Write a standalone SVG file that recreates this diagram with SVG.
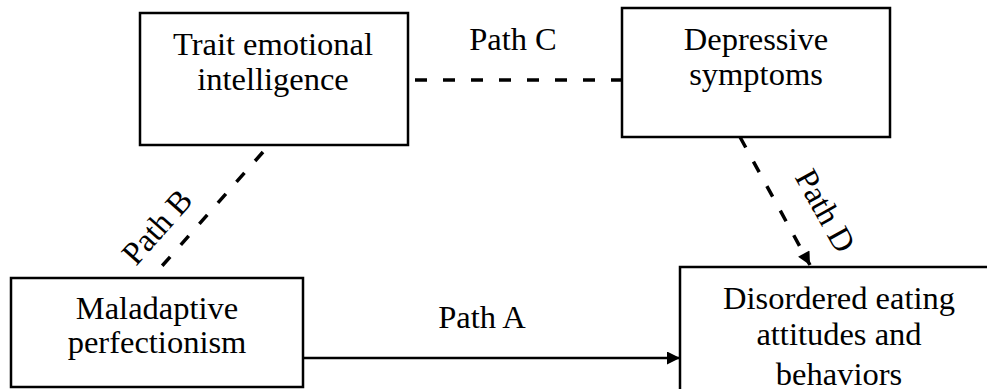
<svg xmlns="http://www.w3.org/2000/svg" width="987" height="389" viewBox="0 0 987 389">
<style>
.box{fill:#fff;stroke:#000;stroke-width:2.5}
.t{font-family:"Liberation Serif","Times New Roman",serif;font-size:32.5px;fill:#000;text-anchor:middle}
.dash{stroke:#000;stroke-width:3.5;stroke-dasharray:12 16;fill:none}
.solid{stroke:#000;stroke-width:2.5;fill:none}
</style>
<defs>
<marker id="ah" viewBox="0 0 10 10" refX="10" refY="5" markerWidth="16" markerHeight="13" markerUnits="userSpaceOnUse" orient="auto">
<path d="M0,0 L10,5 L0,10 Z" fill="#000"/>
</marker>
</defs>
<rect width="987" height="389" fill="#fff"/>
<g id="connectors">
<line class="dash" x1="415" y1="80" x2="622" y2="80"/>
<line class="dash" x1="263" y1="152" x2="162" y2="266"/>
<line class="dash" x1="740" y1="137" x2="810" y2="265" marker-end="url(#ah)"/>
<line class="solid" x1="303" y1="358" x2="680" y2="358" marker-end="url(#ah)"/>
<text class="t" x="513" y="50">Path C</text>
<text class="t" x="482" y="328">Path A</text>
<text class="t" transform="translate(165,234) rotate(-48.5)" x="0" y="0">Path B</text>
<text class="t" transform="translate(816,216) rotate(61)" x="0" y="0">Path D</text>
</g>
<g id="trait">
<rect class="box" x="140" y="13" width="268" height="132"/>
<text class="t" x="273" y="55">Trait emotional</text>
<text class="t" x="273" y="90">intelligence</text>
</g>
<g id="depressive">
<rect class="box" x="622" y="8" width="268" height="129"/>
<text class="t" x="756" y="50">Depressive</text>
<text class="t" x="756" y="85">symptoms</text>
</g>
<g id="maladaptive">
<rect class="box" x="11" y="278" width="292" height="109"/>
<text class="t" x="157" y="319">Maladaptive</text>
<text class="t" x="157" y="353">perfectionism</text>
</g>
<g id="disordered">
<rect class="box" x="680" y="267" width="318" height="140"/>
<text class="t" x="839" y="309">Disordered eating</text>
<text class="t" x="839" y="345">attitudes and</text>
<text class="t" x="839" y="385">behaviors</text>
</g>
</svg>
